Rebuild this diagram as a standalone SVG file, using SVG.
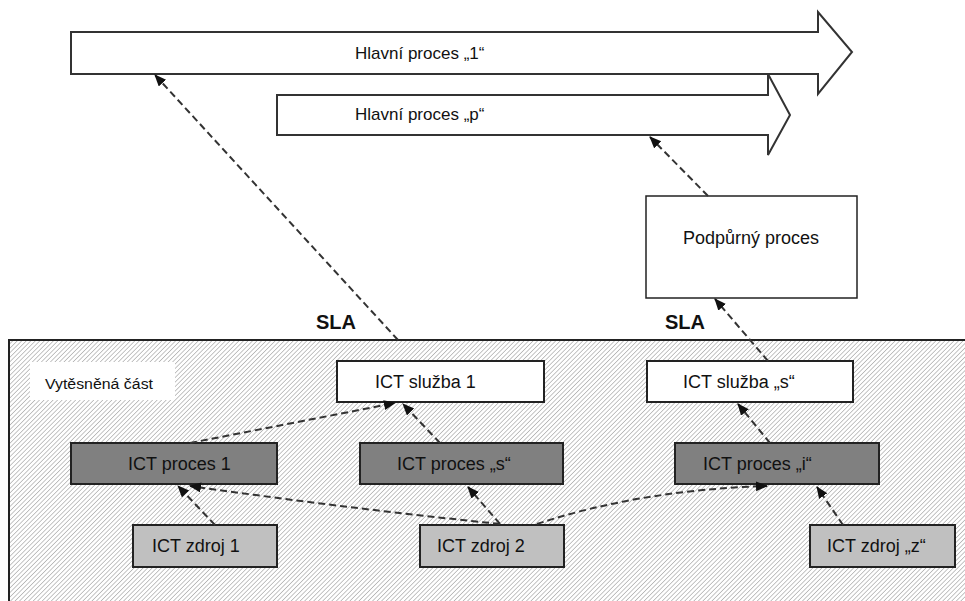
<svg xmlns="http://www.w3.org/2000/svg" width="965" height="601" viewBox="0 0 965 601">
<style>
text{font-family:"Liberation Sans",Arial,sans-serif;fill:#111;}
.t{font-size:18px;}
.h{font-size:17px;}
.sla{font-size:20px;font-weight:bold;}
.big{fill:#fff;stroke:#333;stroke-width:2;stroke-linejoin:miter;}
.wbox{fill:#fff;stroke:#222;stroke-width:2;}
.pbox{fill:#808080;stroke:#222;stroke-width:2;}
.zbox{fill:#c0c0c0;stroke:#222;stroke-width:2;}
.c{fill:none;stroke:#333;stroke-width:2;stroke-dasharray:7 4;marker-end:url(#ah);}
</style>
<defs>
<pattern id="hatch" width="3.2" height="3.2" patternUnits="userSpaceOnUse" patternTransform="rotate(45)">
<rect width="3.2" height="3.2" fill="#fff"/>
<line x1="0" y1="0" x2="0" y2="3.2" stroke="#8a8a8a" stroke-width="1"/>
</pattern>
<marker id="ah" markerUnits="userSpaceOnUse" markerWidth="14" markerHeight="12" refX="11" refY="5" orient="auto">
<path d="M0,0 L12,5 L0,10 z" fill="#111"/>
</marker>
</defs>
<rect width="965" height="601" fill="#fff"/>

<g id="area">
<rect x="9" y="340" width="970" height="280" fill="url(#hatch)" stroke="#222" stroke-width="2"/>
<rect x="30" y="362" width="145" height="38" fill="#fff"/>
<text x="45" y="389" style="font-size:14px" textLength="108" lengthAdjust="spacingAndGlyphs">Vytěsněná část</text>
</g>

<g id="main-p">
<polygon class="big" points="277,95 768,95 768,74 790,115 768,155 768,135 277,135"/>
<text class="h" x="355" y="120">Hlavní proces „p“</text>
</g>
<g id="main-1">
<polygon class="big" points="71,32 818,32 818,12 852,52 818,94 818,74 71,74"/>
<text class="h" x="355" y="59">Hlavní proces „1“</text>
</g>

<g id="support">
<rect class="wbox" x="646" y="196" width="211" height="102" style="stroke-width:1.5"/>
<text class="t" x="683" y="244">Podpůrný proces</text>
</g>

<g id="sla-labels">
<text class="sla" x="316" y="329">SLA</text>
<text class="sla" x="665" y="329">SLA</text>
</g>

<g id="sluzba1">
<rect class="wbox" x="337" y="361" width="207" height="41"/>
<text class="t" x="375" y="388">ICT služba 1</text>
</g>
<g id="sluzbaS">
<rect class="wbox" x="647" y="361" width="206" height="41"/>
<text class="t" x="683" y="388">ICT služba „s“</text>
</g>

<g id="proces1">
<rect class="pbox" x="71" y="443" width="206" height="41"/>
<text class="t" x="128" y="470">ICT proces 1</text>
</g>
<g id="procesS">
<rect class="pbox" x="360" y="443" width="203" height="41"/>
<text class="t" x="397" y="470">ICT proces „s“</text>
</g>
<g id="procesI">
<rect class="pbox" x="675" y="443" width="204" height="41"/>
<text class="t" x="703" y="470">ICT proces „i“</text>
</g>

<g id="zdroj1">
<rect class="zbox" x="133" y="525" width="144" height="42"/>
<text class="t" x="152" y="552">ICT zdroj 1</text>
</g>
<g id="zdroj2">
<rect class="zbox" x="420" y="525" width="144" height="42"/>
<text class="t" x="437" y="552">ICT zdroj 2</text>
</g>
<g id="zdrojZ">
<rect class="zbox" x="810" y="525" width="145" height="42"/>
<text class="t" x="827" y="552">ICT zdroj „z“</text>
</g>

<g id="connectors">
<path class="c" d="M398,340 L155,75"/>
<path class="c" d="M708,196 L650,137"/>
<path class="c" d="M768,361 L715,299"/>
<path class="c" d="M770,443 L738,404"/>
<path class="c" d="M440,443 L403,404"/>
<path class="c" d="M190,443 L395,403"/>
<path class="c" d="M215,525 L178,486"/>
<path class="c" d="M500,524 Q345,508 190,486"/>
<path class="c" d="M500,524 L468,487"/>
<path class="c" d="M537,524 Q640,490 767,486"/>
<path class="c" d="M843,525 L817,487"/>
</g>
</svg>
